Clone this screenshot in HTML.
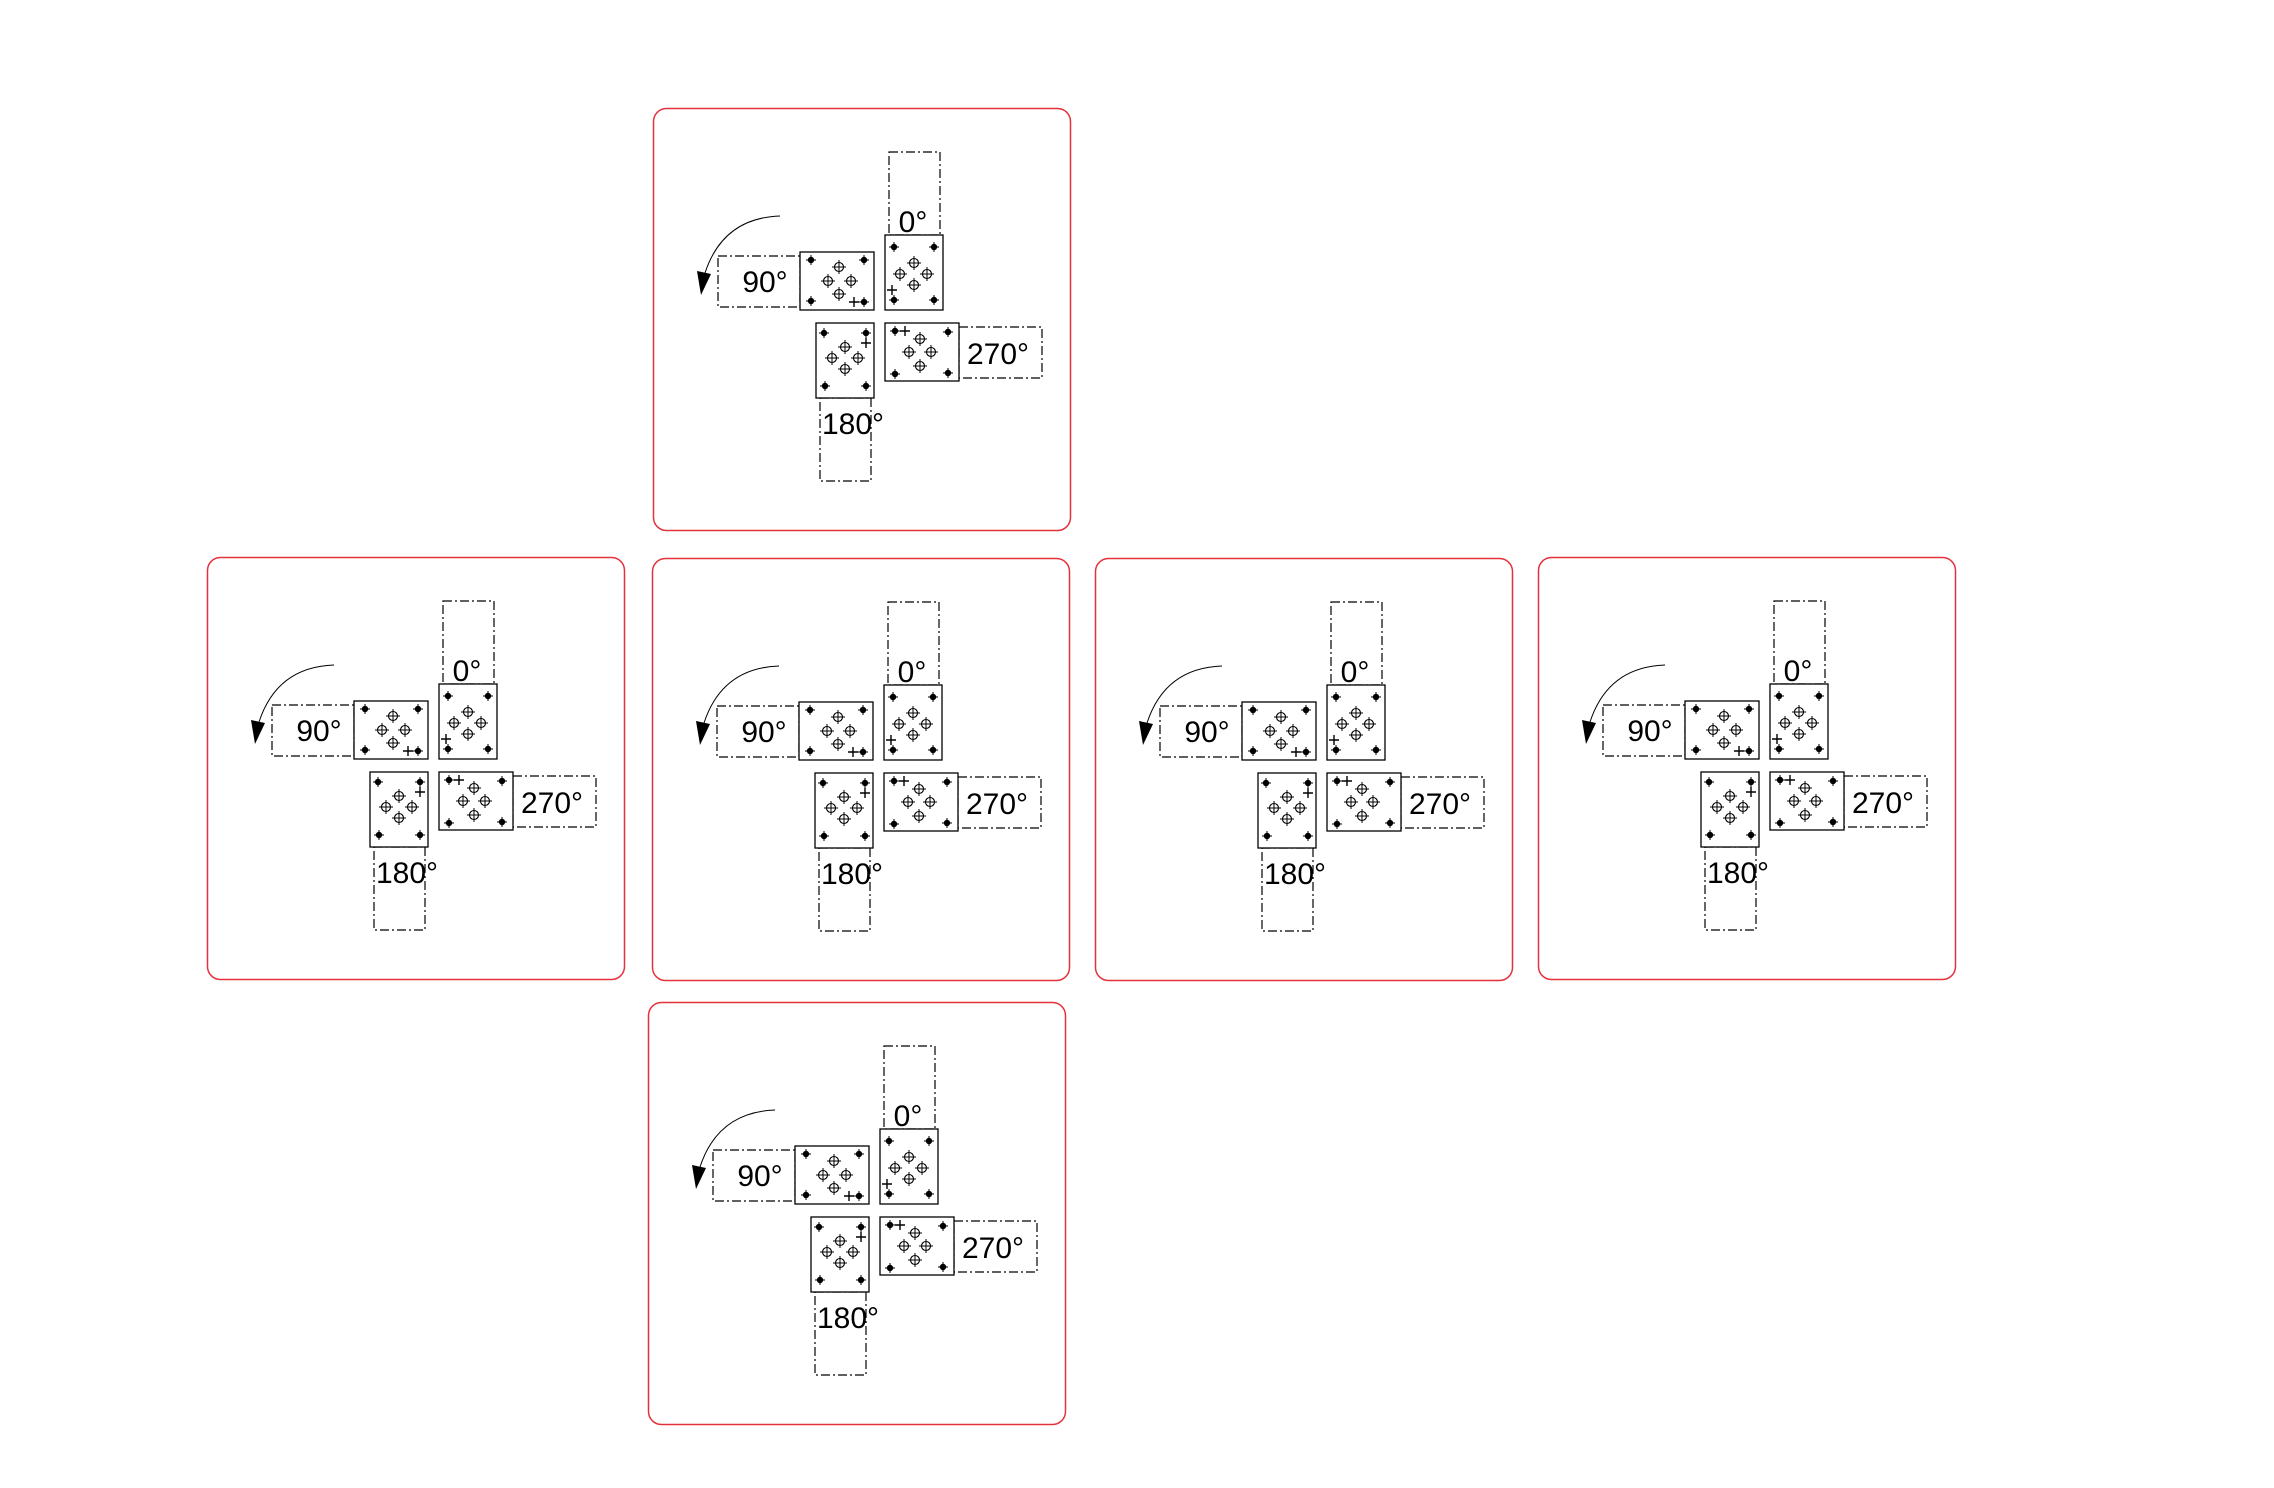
<!DOCTYPE html>
<html><head><meta charset="utf-8"><style>
html,body{margin:0;padding:0;background:#fff;}
svg{display:block;}
text{font-family:"Liberation Sans",sans-serif;fill:#000;}
</style></head><body>
<svg id="s" width="2274" height="1488" viewBox="0 0 2274 1488" xmlns="http://www.w3.org/2000/svg">
</svg>
<script>
const panelX=[653,207,652,1095,1538,648];
const panelY=[108,557,558,558,557,1002];
const panelNames=['panel-top','panel-row2-1','panel-row2-2','panel-row2-3','panel-row2-4','panel-bottom'];
const NS='http://www.w3.org/2000/svg';
const svg=document.getElementById('s');
function el(t,a,p){const e=document.createElementNS(NS,t);for(const k in a)e.setAttribute(k,a[k]);p.appendChild(e);return e;}
const DASH='9 3 2 3';
const plates=[
 {n:'plate-0',x:232,y:127,w:58,h:75,h2:[['c',9,12],['c',49,12],['c',9,65],['c',49,65],['x',7,55],['r',29,28],['r',15,39],['r',42,39],['r',29,50]]},
 {n:'plate-90',x:147,y:144,w:74,h:58,h2:[['c',11,8],['c',64,8],['c',11,49],['c',64,50],['x',54,50],['r',39,15],['r',28,29],['r',51,29],['r',39,42]]},
 {n:'plate-180',x:163,y:215,w:58,h:75,h2:[['c',8,10],['c',50,10],['c',9,63],['c',50,63],['x',50,20],['r',29,24],['r',16,35],['r',42,35],['r',29,46]]},
 {n:'plate-270',x:232,y:215,w:74,h:58,h2:[['c',10,8],['c',63,9],['c',10,51],['c',63,50],['x',20,8],['r',35,16],['r',24,29],['r',46,29],['r',35,43]]}
];
const boxes=[
 {n:'box-0',x:236,y:44,w:51,h:83,t:'0°',tx:260,ty:124},
 {n:'box-90',x:65,y:148,w:82,h:51,t:'90°',tx:112,ty:184},
 {n:'box-180',x:167,y:290,w:51,h:83,t:'180°',tx:200,ty:326},
 {n:'box-270',x:306,y:219,w:83,h:51,t:'270°',tx:345,ty:256}
];
for(let i=0;i<panelX.length;i++){
 const g=el('g',{transform:`translate(${panelX[i]},${panelY[i]})`},svg);
 
 
 const fr=el('rect',{x:0.5,y:0.5,width:417,height:422,rx:13,fill:'none',stroke:'#e5313b','stroke-width':1.5},g);
 
 
 for(const b of boxes){
  const r=el('rect',{x:b.x,y:b.y,width:b.w,height:b.h,fill:'none',stroke:'#000','stroke-width':1.2,'stroke-dasharray':DASH},g);
  
  
 }
 for(const p of plates){
  const pg=el('g',{transform:`translate(${p.x},${p.y})`},g);
  
  
  el('rect',{x:0,y:0,width:p.w,height:p.h,fill:'#fff',stroke:'#000','stroke-width':1.3},pg);
  for(const h of p.h2){
   const [t,x,y]=h;
   if(t==='c'){el('circle',{cx:x,cy:y,r:3.2,fill:'#000'},pg);
    el('path',{d:`M${x-5} ${y}H${x+5}M${x} ${y-5}V${y+5}`,stroke:'#000','stroke-width':1},pg);}
   else if(t==='r'){el('circle',{cx:x,cy:y,r:4.5,fill:'none',stroke:'#000','stroke-width':1.1},pg);
    el('path',{d:`M${x-7} ${y}H${x+7}M${x} ${y-7}V${y+7}`,stroke:'#000','stroke-width':1},pg);}
   else {el('path',{d:`M${x-5} ${y}H${x+5}M${x} ${y-5}V${y+5}`,stroke:'#000','stroke-width':1.4},pg);}
  }
 }
 for(const b of boxes){
  const tt=el('text',{x:b.tx,y:b.ty,'font-size':30,'text-anchor':'middle'},g);
  tt.textContent=b.t;
  
  
 }
 const arc=el('path',{d:'M127 108 Q70 110 52 165',fill:'none',stroke:'#000','stroke-width':1},g);
 
 
 const head=el('path',{d:'M44 163 L58 166 L48 187 Z',fill:'#000'},g);
 
 
}
</script>
</body></html>
